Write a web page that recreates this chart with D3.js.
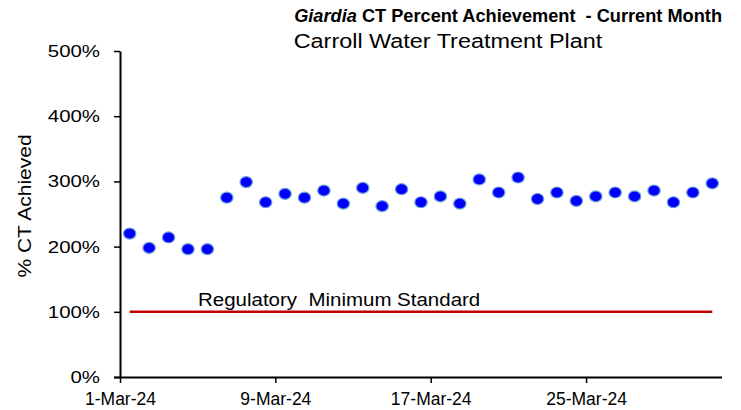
<!DOCTYPE html>
<html>
<head>
<meta charset="utf-8">
<script src="https://cdn.jsdelivr.net/npm/d3@7"></script>
<style>
  body { margin: 0; background: #fff; }
  svg { display: block; font-family: "Liberation Sans", Arial, sans-serif; }
  text { white-space: pre; }
</style>
</head>
<body>
<div id="chart"></div>
<script>
const width = 741
const height = 410
const margin = ({top: 51, right: 19, bottom: 33, left: 120})

// daily % CT achieved, 1-Mar-24 .. 31-Mar-24
const days = d3.range(1, 32)
const ctValues = [220, 198, 214, 196, 196, 275, 299, 268, 281, 275, 286, 266,
  290, 262, 288, 268, 277, 266, 303, 283, 306, 273, 283, 270, 277, 283, 277,
  286, 268, 283, 297]
const regMinimum = 100
const yTicks = [0, 100, 200, 300, 400, 500]
const xTickDays = [1, 9, 17, 25]

const data = days.map((d, i) => ({date: new Date(2024, 2, d, 12), value: ctValues[i]}))

const x = d3.scaleTime()
  .domain([new Date(2024, 2, 1), new Date(2024, 3, 1)])
  .range([margin.left, width - margin.right])

const y = d3.scaleLinear()
  .domain([0, 500])
  .range([height - margin.bottom, margin.top])

const fmt = d => `${d.getDate()}-${d3.timeFormat("%b")(d)}-${d3.timeFormat("%y")(d)}`

// the original chart's text is a little wider than Arial, stretch it sideways
const stretch = (sel, f) => sel.each(function() {
  d3.select(this)
    .attr("textLength", this.getComputedTextLength() * f)
    .attr("lengthAdjust", "spacingAndGlyphs")
})

const svg = d3.select("#chart").append("svg")
  .attr("width", width)
  .attr("height", height)
  .attr("viewBox", [0, 0, width, height])

// x axis
svg.append("g")
  .attr("transform", `translate(0,${height - margin.bottom})`)
  .call(d3.axisBottom(x)
    .tickValues(xTickDays.map(d => new Date(2024, 2, d)))
    .tickFormat(fmt)
    .tickSize(6)
    .tickSizeOuter(0))
  .call(g => g.select(".domain").attr("stroke-width", 2).attr("d", `M${margin.left - 6},0.5H${width - margin.right}`))
  .call(g => g.selectAll(".tick line").attr("stroke-width", 1.5))
  .call(g => g.selectAll(".tick text").attr("font-size", 17.5).attr("dy", "1.08em").attr("fill", "#000"))

// y axis
svg.append("g")
  .attr("transform", `translate(${margin.left},0)`)
  .call(d3.axisLeft(y)
    .tickValues(yTicks)
    .tickFormat(d => d + "%")
    .tickSize(6)
    .tickSizeOuter(0))
  .call(g => g.select(".domain").attr("stroke-width", 2))
  .call(g => g.selectAll(".tick line").attr("stroke-width", 1.5))
  .call(g => g.selectAll(".tick text").attr("font-size", 17).attr("x", -20).attr("fill", "#000").call(stretch, 1.2))

// regulatory minimum line
svg.append("line")
  .attr("x1", x(data[0].date))
  .attr("x2", x(data[data.length - 1].date))
  .attr("y1", y(regMinimum))
  .attr("y2", y(regMinimum))
  .attr("stroke", "#c00000")
  .attr("stroke-width", 2.5)

svg.append("text")
  .attr("x", 198)
  .attr("y", y(regMinimum) - 6)
  .attr("font-size", 17.5)
  .text("Regulatory  Minimum Standard")
  .call(stretch, 1.17)

// points
svg.append("g")
  .selectAll("ellipse")
  .data(data)
  .join("ellipse")
  .attr("cx", d => x(d.date))
  .attr("cy", d => y(d.value))
  .attr("rx", 6.2)
  .attr("ry", 5.5)
  .attr("fill", "#0000ff")
  .attr("stroke", "#6f9fd8")
  .attr("stroke-width", 1.2)

// titles
const title = svg.append("text")
  .attr("x", 722)
  .attr("y", 22)
  .attr("text-anchor", "end")
  .attr("font-size", 18.2)
  .attr("font-weight", "bold")
title.append("tspan").attr("font-style", "italic").text("Giardia")
title.append("tspan").text(" CT Percent Achievement  - Current Month")

svg.append("text")
  .attr("x", 448)
  .attr("y", 48)
  .attr("text-anchor", "middle")
  .attr("font-size", 19.5)
  .text("Carroll Water Treatment Plant")
  .call(stretch, 1.2)

svg.append("text")
  .attr("transform", `translate(31,206) rotate(-90)`)
  .attr("text-anchor", "middle")
  .attr("font-size", 17.5)
  .text("% CT Achieved")
  .call(stretch, 1.2)
</script>
</body>
</html>
